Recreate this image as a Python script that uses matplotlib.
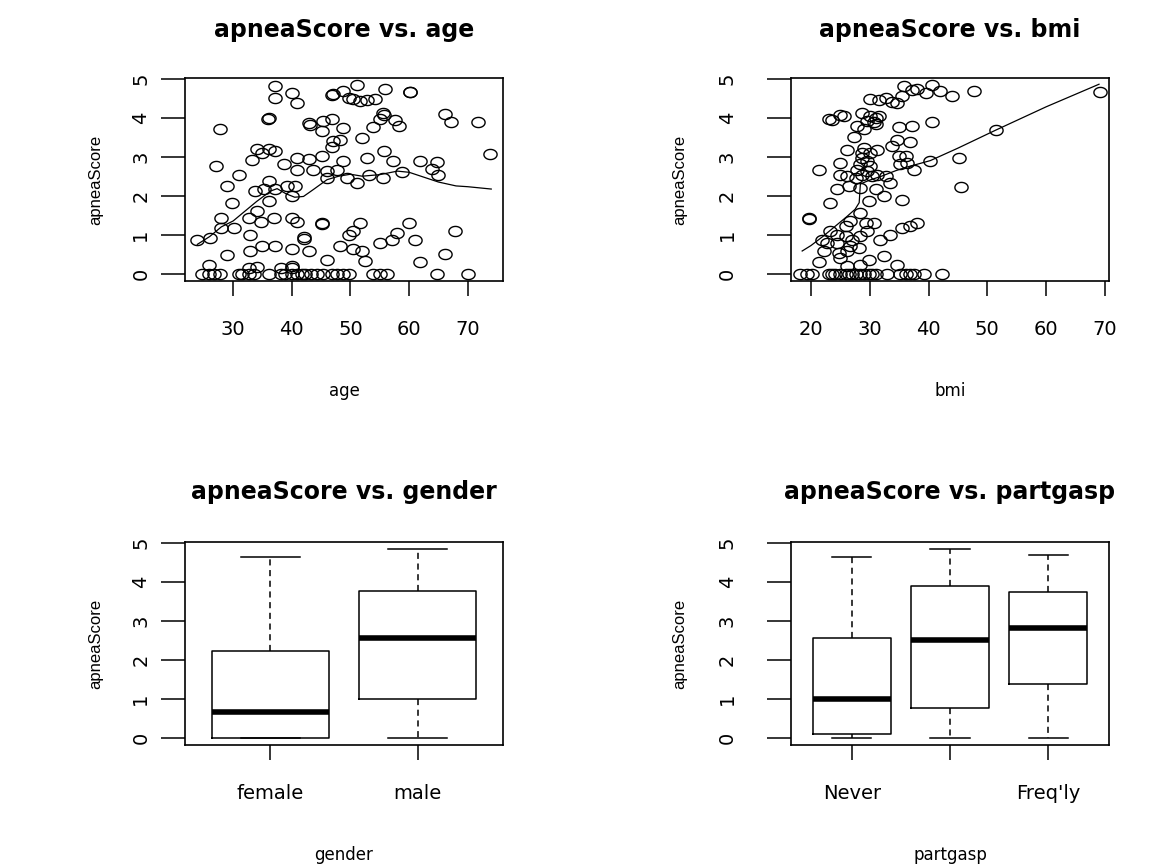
import numpy as np
import matplotlib
matplotlib.use("Agg")
import matplotlib.pyplot as plt
from matplotlib.path import Path

plt.rcParams['font.family'] = ['DejaVu Sans']

# ---------------------------------------------------------------------------
# data
# ---------------------------------------------------------------------------
age = [37.1, 37.1, 40.0, 40.9, 46.9, 47.0, 48.8, 51.1, 49.7, 50.5, 51.7, 52.8, 54.2,
       55.9, 60.1, 60.2, 36.2, 36.0, 27.7, 42.9, 43.1, 45.4, 46.9, 48.8, 45.1, 52.0,
       53.9, 55.6, 55.8, 55.1, 57.6, 58.2, 66.1, 67.1, 71.7, 73.8, 47.1, 46.9, 48.3,
       34.0, 36.1, 37.2, 34.9, 33.2, 27.0, 31.0, 28.9, 29.8, 38.6, 40.9, 42.9, 45.1,
       48.8, 52.8, 55.8, 57.3, 61.9, 64.7, 63.9, 65.0, 58.8, 40.9, 43.7, 46.0, 47.7,
       46.0, 49.4, 51.1, 53.1, 55.6, 36.1, 33.8, 35.2, 37.2, 39.2, 40.6, 40.0, 36.1,
       34.1, 32.7, 34.7, 36.9, 40.0, 40.9, 28.0, 27.9, 30.1, 32.9, 23.9, 26.1, 45.1,
       45.1, 42.1, 42.1, 51.7, 50.5, 49.7, 59.9, 57.9, 57.1, 55.1, 61.0, 67.8, 48.3,
       50.5, 52.0, 52.5, 46.0, 32.9, 34.9, 37.2, 40.0, 42.9, 28.9, 25.9, 61.9, 66.1,
       32.7, 34.1, 38.1, 40.0, 40.1,
       24.7, 25.9, 26.7, 27.8, 31.0, 31.5, 32.7, 33.5, 36.1, 38.1, 38.9, 40.0, 40.9,
       41.7, 42.3, 43.2, 44.3, 45.4, 46.9, 47.7, 48.8, 49.7, 53.9, 55.1, 56.2, 64.7,
       70.1]
age_score = [4.81, 4.51, 4.64, 4.37, 4.58, 4.60, 4.68, 4.84, 4.51, 4.47, 4.43, 4.45, 4.49,
             4.75, 4.67, 4.65, 4.00, 3.97, 3.70, 3.87, 3.81, 3.91, 3.96, 3.74, 3.66, 3.48,
             3.77, 4.11, 4.07, 3.96, 3.94, 3.80, 4.10, 3.89, 3.89, 3.08, 3.40, 3.24, 3.42,
             3.21, 3.21, 3.14, 3.10, 2.91, 2.77, 2.54, 2.26, 1.82, 2.80, 2.97, 2.93, 3.01,
             2.89, 2.97, 3.14, 2.89, 2.90, 2.86, 2.69, 2.52, 2.60, 2.67, 2.67, 2.63, 2.67,
             2.46, 2.46, 2.33, 2.54, 2.46, 2.37, 2.11, 2.16, 2.16, 2.24, 2.26, 1.99, 1.86,
             1.60, 1.43, 1.32, 1.43, 1.43, 1.32, 1.43, 1.17, 1.17, 1.00, 0.87, 0.92, 1.27,
             1.31, 0.94, 0.90, 1.30, 1.09, 1.00, 1.30, 1.04, 0.87, 0.79, 0.87, 1.09, 0.70,
             0.62, 0.57, 0.32, 0.36, 0.57, 0.70, 0.70, 0.63, 0.59, 0.49, 0.23, 0.29, 0.51,
             0.15, 0.17, 0.15, 0.19, 0.15,
             0, 0, 0, 0, 0, 0, 0, 0, 0, 0, 0, 0, 0,
             0, 0, 0, 0, 0, 0, 0, 0, 0, 0, 0, 0, 0,
             0]

# smooth curve drawn over the age scatter
age_fit_x = [23.9, 26.0, 28.0, 30.0, 32.0, 34.0, 36.4, 37.5, 39.0, 40.5, 42.0, 43.7, 46.0,
             48.0, 50.0, 52.0, 55.0, 58.0, 60.0, 62.0, 65.0, 68.0, 70.0, 74.0]
age_fit_y = [0.75, 0.95, 1.20, 1.35, 1.60, 1.85, 2.12, 2.18, 2.05, 1.96, 1.98, 2.16, 2.41,
             2.50, 2.55, 2.50, 2.54, 2.63, 2.60, 2.50, 2.35, 2.25, 2.23, 2.17]

bmi = [35.8, 38.1, 40.6, 42.0, 44.0, 39.5, 47.7, 37.2, 30.1, 31.5, 32.7, 33.8, 34.7, 35.5,
       69.2, 23.0, 23.6, 25.0, 25.6, 28.7, 30.1, 31.0, 31.5, 29.5, 30.7, 27.8, 29.0, 31.0,
       34.9, 37.2, 40.6, 51.4, 27.3, 34.7, 36.9, 33.8, 29.0, 28.7, 31.2, 30.1, 26.1, 25.0,
       21.3, 28.7, 29.5, 28.4, 30.1, 27.8, 29.5, 34.9, 36.1, 36.4, 35.2, 37.5, 40.3, 45.2,
       25.0, 26.1, 27.6, 28.7, 30.4, 31.2, 32.7, 33.5, 24.4, 26.4, 28.4, 31.0, 32.4, 45.5,
       23.3, 29.8, 35.5, 19.6, 19.7, 28.4, 26.7, 29.3, 30.7, 25.9, 35.5, 36.9, 38.1, 23.3,
       24.4, 25.9, 27.0, 28.4, 29.5, 33.5, 31.8, 21.9, 22.7, 24.4, 26.7, 22.2, 24.7, 26.1,
       28.1, 21.3, 25.0, 29.8, 32.4, 34.7, 26.1, 28.4,
       18.2, 19.3, 20.2, 23.0, 23.6, 24.1, 25.0, 25.9, 26.4, 27.0, 27.6, 28.4, 29.0, 29.8,
       30.4, 31.0, 33.0, 35.2, 36.1, 36.9, 37.5, 39.2, 42.3]
bmi_score = [4.81, 4.73, 4.85, 4.68, 4.55, 4.64, 4.68, 4.70, 4.47, 4.45, 4.51, 4.40, 4.38, 4.55,
             4.66, 3.97, 3.95, 4.08, 4.04, 4.13, 4.04, 4.00, 4.04, 3.91, 3.89, 3.78, 3.72, 3.83,
             3.77, 3.80, 3.89, 3.68, 3.51, 3.44, 3.37, 3.27, 3.23, 3.10, 3.18, 3.10, 3.18, 2.84,
             2.65, 2.97, 2.89, 2.80, 2.76, 2.67, 2.63, 3.01, 3.01, 2.84, 2.80, 2.67, 2.90, 2.97,
             2.52, 2.50, 2.46, 2.52, 2.50, 2.54, 2.50, 2.33, 2.16, 2.24, 2.20, 2.16, 1.99, 2.23,
             1.82, 1.86, 1.90, 1.41, 1.42, 1.56, 1.34, 1.30, 1.30, 1.22, 1.17, 1.22, 1.30, 1.09,
             1.00, 0.96, 0.87, 0.96, 1.09, 1.00, 0.87, 0.87, 0.79, 0.79, 0.70, 0.57, 0.53, 0.57,
             0.66, 0.29, 0.40, 0.36, 0.45, 0.23, 0.19, 0.23,
             0, 0, 0, 0, 0, 0, 0, 0, 0, 0, 0, 0, 0, 0,
             0, 0, 0, 0, 0, 0, 0, 0, 0]

bmi_fit_x = [18.5, 20.0, 22.0, 24.0, 26.0, 27.5, 28.2, 28.4, 30.0, 32.0, 34.4, 36.0, 40.3,
             45.0, 51.4, 60.0, 69.0]
bmi_fit_y = [0.58, 0.72, 0.95, 1.20, 1.45, 1.65, 1.82, 2.30, 2.40, 2.50, 2.64, 2.72, 2.90,
             3.22, 3.68, 4.28, 4.86]

# box plot summaries: lower whisker, Q1, median, Q3, upper whisker
gender_labels = ['female', 'male']
gender_low = [0.0, 0.0]
gender_q1 = [0.0, 0.99]
gender_med = [0.65, 2.55]
gender_q3 = [2.23, 3.77]
gender_high = [4.64, 4.83]

partgasp_labels = ['Never', '', "Freq'ly"]
partgasp_low = [0.0, 0.0, 0.0]
partgasp_q1 = [0.085, 0.77, 1.37]
partgasp_med = [0.99, 2.50, 2.82]
partgasp_q3 = [2.55, 3.89, 3.73]
partgasp_high = [4.64, 4.83, 4.68]

# ---------------------------------------------------------------------------
W, H = 1164, 865
fig = plt.figure(figsize=(W / 100, H / 100), dpi=100)


def px_axes(x0, y0, x1, y1):
    return fig.add_axes([x0 / W, 1 - y1 / H, (x1 - x0) / W, (y1 - y0) / H])


# slightly wide circle, like the stretched original
t = np.linspace(0, 2 * np.pi, 60)
ring = Path(np.column_stack([1.3 * np.cos(t), np.sin(t)]), closed=True)

TITLE_FS = 17
LAB_FS = 12
TICK_FS = 14


def style(ax, title, xlabel, title_y, ypad, ylab_x):
    for s in ax.spines.values():
        s.set_linewidth(1.2)
        s.set_color('black')
    ax.set_yticks([0, 1, 2, 3, 4, 5])
    ax.set_yticklabels(['0', '1', '2', '3', '4', '5'], rotation=90, va='center')
    ax.tick_params(axis='y', direction='out', length=17, width=1.1, pad=ypad, labelsize=TICK_FS)
    ax.tick_params(axis='x', direction='out', length=11, width=1.1, pad=17, labelsize=TICK_FS)
    ax.set_title(title, fontsize=TITLE_FS, fontweight='bold', y=title_y, va='center', pad=0)
    ax.set_xlabel(xlabel, fontsize=LAB_FS)
    ax.xaxis.set_label_coords(0.5, -0.54)
    ax.xaxis.label.set_va('center')
    ax.set_ylabel('apneaScore', fontsize=LAB_FS, family='Liberation Sans')
    ax.yaxis.set_label_coords(ylab_x, 0.5)
    ax.yaxis.label.set_va('center')
    ax.set_ylim(-0.19, 5.02)


# --- apneaScore vs. age
ax1 = px_axes(185, 78, 503, 281)
ax1.plot(age, age_score, linestyle='none', marker=ring, markersize=9.5,
         markerfacecolor='none', markeredgecolor='black', markeredgewidth=1.0)
ax1.plot(age_fit_x, age_fit_y, color='black', linewidth=0.9)
ax1.set_xlim(21.8, 76.0)
ax1.set_xticks([30, 40, 50, 60, 70])
style(ax1, 'apneaScore vs. age', 'age', 1.236, 8, -0.28)

# --- apneaScore vs. bmi
ax2 = px_axes(791, 78, 1109, 281)
ax2.plot(bmi, bmi_score, linestyle='none', marker=ring, markersize=9.5,
         markerfacecolor='none', markeredgecolor='black', markeredgewidth=1.0)
ax2.plot(bmi_fit_x, bmi_fit_y, color='black', linewidth=0.9)
ax2.set_xlim(16.6, 70.7)
ax2.set_xticks([20, 30, 40, 50, 60, 70])
style(ax2, 'apneaScore vs. bmi', 'bmi', 1.236, 22, -0.35)


def box_stats(labels, low, q1, med, q3, high):
    return [dict(label=l, whislo=a, q1=b, med=c, q3=d, whishi=e, fliers=[])
            for l, a, b, c, d, e in zip(labels, low, q1, med, q3, high)]


bx_kw = dict(widths=0.8, capwidths=0.4, showfliers=False,
             boxprops=dict(color='black', linewidth=1.1),
             medianprops=dict(color='black', linewidth=4, solid_capstyle='butt'),
             whiskerprops=dict(color='black', linewidth=1.1, linestyle=(0, (4, 3))),
             capprops=dict(color='black', linewidth=1.1))

# --- apneaScore vs. gender
ax3 = px_axes(185, 542, 503, 745)
ax3.bxp(box_stats(gender_labels, gender_low, gender_q1, gender_med, gender_q3, gender_high),
        **bx_kw)
ax3.set_xlim(0.42, 2.58)
style(ax3, 'apneaScore vs. gender', 'gender', 1.246, 8, -0.28)

# --- apneaScore vs. partgasp
ax4 = px_axes(791, 542, 1109, 745)
ax4.bxp(box_stats(partgasp_labels, partgasp_low, partgasp_q1, partgasp_med, partgasp_q3,
                  partgasp_high), **bx_kw)
ax4.set_xlim(0.38, 3.62)
style(ax4, 'apneaScore vs. partgasp', 'partgasp', 1.246, 22, -0.35)

fig.savefig('out.png', dpi=100, facecolor='white')
